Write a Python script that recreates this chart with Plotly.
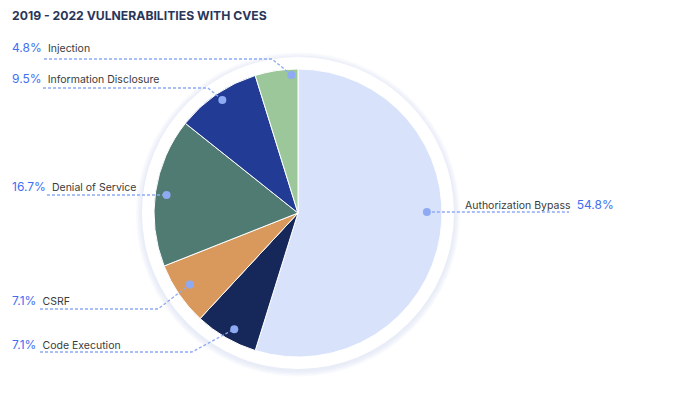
import math
import plotly.graph_objects as go

# ---------------- data ----------------
title = "2019 - 2022 VULNERABILITIES WITH CVES"
categories = ["Authorization Bypass", "Code Execution", "CSRF",
              "Denial of Service", "Information Disclosure", "Injection"]
shares = [54.8, 7.1, 7.1, 16.7, 9.5, 4.8]
colors = ["#d8e3fb", "#16275a", "#d9995d", "#4f7b72", "#223c96", "#9bc79a"]

# ---------------- layout helpers ----------------
W, H = 678, 395
CX, CY, R = 298, 213, 144      # pie centre / radius in pixels
RH = 156                       # white halo radius

def px(x):
    return x / W

def py(y):
    return 1 - y / H

FONT = "Inter, Roboto, sans-serif"
PCT_COLOR = "#3f6ef2"
TXT_COLOR = "#3a3a3a"
LINE_COLOR = "#8eaaf3"

fig = go.Figure(go.Pie(
    labels=categories, values=shares, sort=False,
    direction="clockwise", rotation=0,
    marker=dict(colors=colors, line=dict(color="white", width=1)),
    textinfo="none", hoverinfo="label+percent",
    domain=dict(x=[px(CX - R), px(CX + R)], y=[py(CY + R), py(CY - R)]),
    showlegend=False,
))

shapes = []
# halo with soft shadow (slightly offset downwards)
for rr in [162, 160.5, 159, 157.5]:
    shapes.append(dict(type="circle", xref="paper", yref="paper", layer="below",
                       x0=px(CX - rr), x1=px(CX + rr),
                       y0=py(CY + 1.5 + rr), y1=py(CY + 1.5 - rr),
                       fillcolor="rgba(200,205,235,0.10)", line=dict(width=0)))
shapes.append(dict(type="circle", xref="paper", yref="paper", layer="below",
                   x0=px(CX - RH), x1=px(CX + RH), y0=py(CY + RH), y1=py(CY - RH),
                   fillcolor="#ffffff", line=dict(width=0)))

# leader geometry (layout only): side, label y, line y, line start x, bend x,
# angle nudge, anchor radius fraction
leaders = {
    "Authorization Bypass": dict(side="right", ly=204, y=212, x0=569, bend=None, nudge=-8.6, rf=0.895),
    "Code Execution": dict(side="left", ly=344, y=352, x0=40, bend=192, nudge=-1.3, rf=0.92),
    "CSRF": dict(side="left", ly=300, y=309, x0=40, bend=158, nudge=0.9, rf=0.90),
    "Denial of Service": dict(side="left", ly=186, y=195, x0=47, bend=None, nudge=-1.2, rf=0.92),
    "Information Disclosure": dict(side="left", ly=79, y=88, x0=43, bend=208, nudge=0.6, rf=0.945),
    "Injection": dict(side="left", ly=48, y=59, x0=44, bend=272, nudge=5.9, rf=0.96),
}

annotations = [dict(text="<b>" + title + "</b>", x=px(10), y=py(16), xref="paper", yref="paper",
                    xanchor="left", yanchor="middle", showarrow=False,
                    font=dict(family=FONT, size=12.2, color="#2a3659"))]

total = sum(shares)
cum = 0.0
for cat, v in zip(categories, shares):
    mid = (cum + v / 2) / total * 360.0
    cum += v
    g = leaders[cat]
    ang = math.radians(mid + g["nudge"])
    dx = CX + g["rf"] * R * math.sin(ang)
    dy = CY - g["rf"] * R * math.cos(ang)
    if g["side"] == "right":
        path = f"M {px(dx)},{py(g['y'])} L {px(g['x0'])},{py(g['y'])}"
        dy = g["y"]
    elif g["bend"] is None:
        dy = g["y"]
        path = f"M {px(g['x0'])},{py(g['y'])} L {px(dx)},{py(dy)}"
    else:
        path = (f"M {px(g['x0'])},{py(g['y'])} L {px(g['bend'])},{py(g['y'])} "
                f"L {px(dx)},{py(dy)}")
    shapes.append(dict(type="path", xref="paper", yref="paper", layer="above", path=path,
                       line=dict(color=LINE_COLOR, width=1.3, dash="3px,2px")))
    shapes.append(dict(type="circle", xref="paper", yref="paper", layer="above",
                       x0=px(dx - 4), x1=px(dx + 4), y0=py(dy + 4), y1=py(dy - 4),
                       fillcolor=LINE_COLOR, line=dict(width=0)))
    pct = f"{v:.1f}%"
    if g["side"] == "right":
        txt = (f"<span style='color:{TXT_COLOR};font-size:10.5px'>{cat}</span>  "
               f"<span style='color:{PCT_COLOR};font-size:12px'>{pct}</span>")
        x = px(463)
    else:
        txt = (f"<span style='color:{PCT_COLOR};font-size:12px'>{pct}</span>  "
               f"<span style='color:{TXT_COLOR};font-size:10.5px'>{cat}</span>")
        x = px(10)
    annotations.append(dict(text=txt, x=x, y=py(g["ly"]), xref="paper", yref="paper",
                            xanchor="left", yanchor="middle", showarrow=False,
                            font=dict(family=FONT, size=11)))

fig.update_layout(
    width=W, height=H, margin=dict(l=0, r=0, t=0, b=0),
    paper_bgcolor="white", plot_bgcolor="white",
    shapes=shapes, annotations=annotations, showlegend=False,
)

fig.write_html("out.html", config={"displayModeBar": False},
               post_script="document.body.style.margin='0';")
